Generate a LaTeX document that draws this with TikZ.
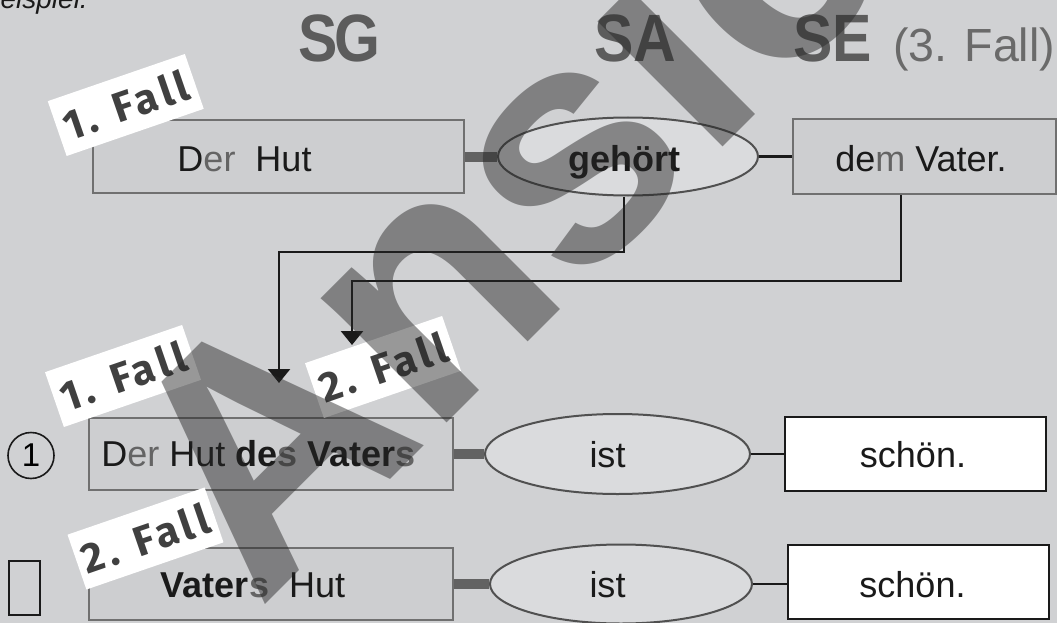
\documentclass[tikz,border=0pt]{standalone}
\usepackage{fontspec}
\usepackage{graphicx}
\setmainfont{Liberation Sans}
\newfontfamily\labfont[LetterSpace=10]{Fira Sans}
\usetikzlibrary{shapes.geometric,arrows.meta}
\definecolor{bg}{RGB}{208,209,211}
\definecolor{boxfill}{RGB}{205,206,208}
\definecolor{ellfill}{RGB}{218,219,221}
\definecolor{boxline}{RGB}{112,112,112}
\definecolor{ellline}{RGB}{80,80,80}
\definecolor{txtdark}{RGB}{26,26,26}
\definecolor{endgray}{RGB}{100,100,100}
\definecolor{hdrgray}{RGB}{92,92,92}
\definecolor{hdrlight}{RGB}{106,106,106}
\definecolor{labtext}{RGB}{64,64,64}
\definecolor{barcol}{RGB}{98,98,98}
\newcommand\egr[1]{\textcolor{endgray}{#1}}
\begin{document}
\begin{tikzpicture}[x=1pt,y=-1pt,
  graybox/.style={draw=boxline, line width=2.4pt, fill=boxfill, rectangle, inner sep=0pt},
  whitebox/.style={draw=txtdark, fill=white, rectangle, inner sep=0pt},
  ellbox/.style={draw=ellline, line width=2pt, fill=ellfill, ellipse, inner sep=0pt},
  wordtxt/.style={anchor=base, inner sep=0pt, text=txtdark, font=\fontsize{36}{36}\selectfont},
  hdr/.style={anchor=base, inner sep=0pt, text=hdrgray, font=\bfseries\fontsize{67}{67}\selectfont},
  thickconn/.style={draw=barcol, line width=10pt},
  thinconn/.style={draw=txtdark, line width=2.5pt},
  arrowline/.style={draw=txtdark, line width=2.6pt, -{Triangle[width=22pt,length=14pt]}},
  lab/.style={fill=white, rectangle, minimum width=145pt, minimum height=58pt, inner sep=0pt,
    text=labtext, font=\labfont\bfseries\fontsize{42}{42}\selectfont},
  wmark/.style={anchor=base west, inner sep=0pt, text=black!85, text opacity=0.47,
    font=\bfseries\fontsize{335}{335}\selectfont}
]
\useasboundingbox (0,0) rectangle (1057,623);
\clip (0,0) rectangle (1057,623);
\fill[bg] (0,0) rectangle (1057,623);

% top text
\node[anchor=base east, inner sep=0pt, text=txtdark, font=\itshape\fontsize{28}{28}\selectfont] (bsp) at (88,9) {Beispiel.};

% headers
\node[hdr] (sg) at (339.5,62) {\scalebox{0.88}[1]{S\kern-3pt G}};
\node[hdr] (sa) at (635,62) {\scalebox{0.88}[1]{SA}};
\node[hdr, anchor=base west] (se) at (793,62) {\scalebox{0.88}[1]{SE}};
\node[anchor=base west, inner sep=0pt, text=hdrlight, font=\fontsize{46.5}{46.5}\selectfont] (fall3) at (893,62) {(3. Fall)};

% row 1
\node[graybox, minimum width=371pt, minimum height=73pt] (b1) at (278.5,156.5) {};
\node[ellbox, minimum width=260pt, minimum height=78pt] (e1) at (628,156.5) {};
\node[graybox, minimum width=263pt, minimum height=75pt] (b2) at (924.5,156.5) {};
\draw[thickconn] (b1.east) -- (e1.west);
\draw[thinconn] (e1.east) -- (b2.west);
\node[wordtxt] (t1) at (244.5,171) {D\egr{er}\ \ Hut};
\node[wordtxt, font=\bfseries\fontsize{36}{36}\selectfont] (t2) at (624,171) {gehört};
\node[wordtxt] (t3) at (921,171) {de\egr{m} Vater.};

% arrows
\coordinate (k1) at (279,252);
\coordinate (tip1) at (279,383);
\coordinate (k2) at (352,281);
\coordinate (tip2) at (352,345);
\draw[arrowline] ([xshift=-4pt]e1.south) |- (k1) -- (tip1);
\draw[arrowline] ([xshift=-23.5pt]b2.south) |- (k2) -- (tip2);

% row 2
\node[draw=txtdark, circle, line width=1.6pt, minimum size=46pt, inner sep=0pt, font=\fontsize{33}{33}\selectfont] (c1) at (31,455.5) {1};
\node[graybox, minimum width=364pt, minimum height=72pt] (b3) at (271,454) {};
\node[ellbox, minimum width=265pt, minimum height=80pt] (e2) at (617.5,454) {};
\node[whitebox, line width=2.8pt, minimum width=261pt, minimum height=74pt] (b4) at (915.5,454) {};
\draw[thickconn] (b3.east) -- (e2.west);
\draw[thinconn] (e2.east) -- (b4.west);
\node[wordtxt] (t4) at (258.5,466) {D\egr{er} Hut \textbf{de\egr{s} Vater\egr{s}}};
\node[wordtxt] (t5) at (607.5,467) {ist};
\node[wordtxt] (t6) at (913,467) {schön.};

% row 3
\node[draw=txtdark, rectangle, line width=1.8pt, minimum width=31pt, minimum height=54pt, inner sep=0pt] (sq) at (24.5,588) {};
\node[graybox, minimum width=364pt, minimum height=72pt] (b5) at (271,584) {};
\node[ellbox, minimum width=262pt, minimum height=79pt] (e3) at (621,584) {};
\node[whitebox, line width=1.8pt, minimum width=261pt, minimum height=74pt] (b6) at (918.5,582) {};
\draw[thickconn] (b5.east) -- (e3.west);
\draw[thinconn] (e3.east) -- (e3.east -| b6.west);
\node[wordtxt] (t7) at (253,597) {\textbf{Vater\egr{s}}\ \ Hut};
\node[wordtxt] (t8) at (607.5,597) {ist};
\node[wordtxt] (t9) at (912.5,597) {schön.};

% labels
\node[lab, rotate=19] (l1) at (125.75,105) {1. Fall};
\node[lab, rotate=19] (l2) at (123,376) {1. Fall};
\node[lab, rotate=19] (l3) at (383,367) {2. Fall};
\node[lab, rotate=19] (l4) at (145.5,538.5) {2. Fall};

% watermark
\node[wmark, rotate=45] (wm) at (259,611) {Ansicht};
\end{tikzpicture}
\end{document}
